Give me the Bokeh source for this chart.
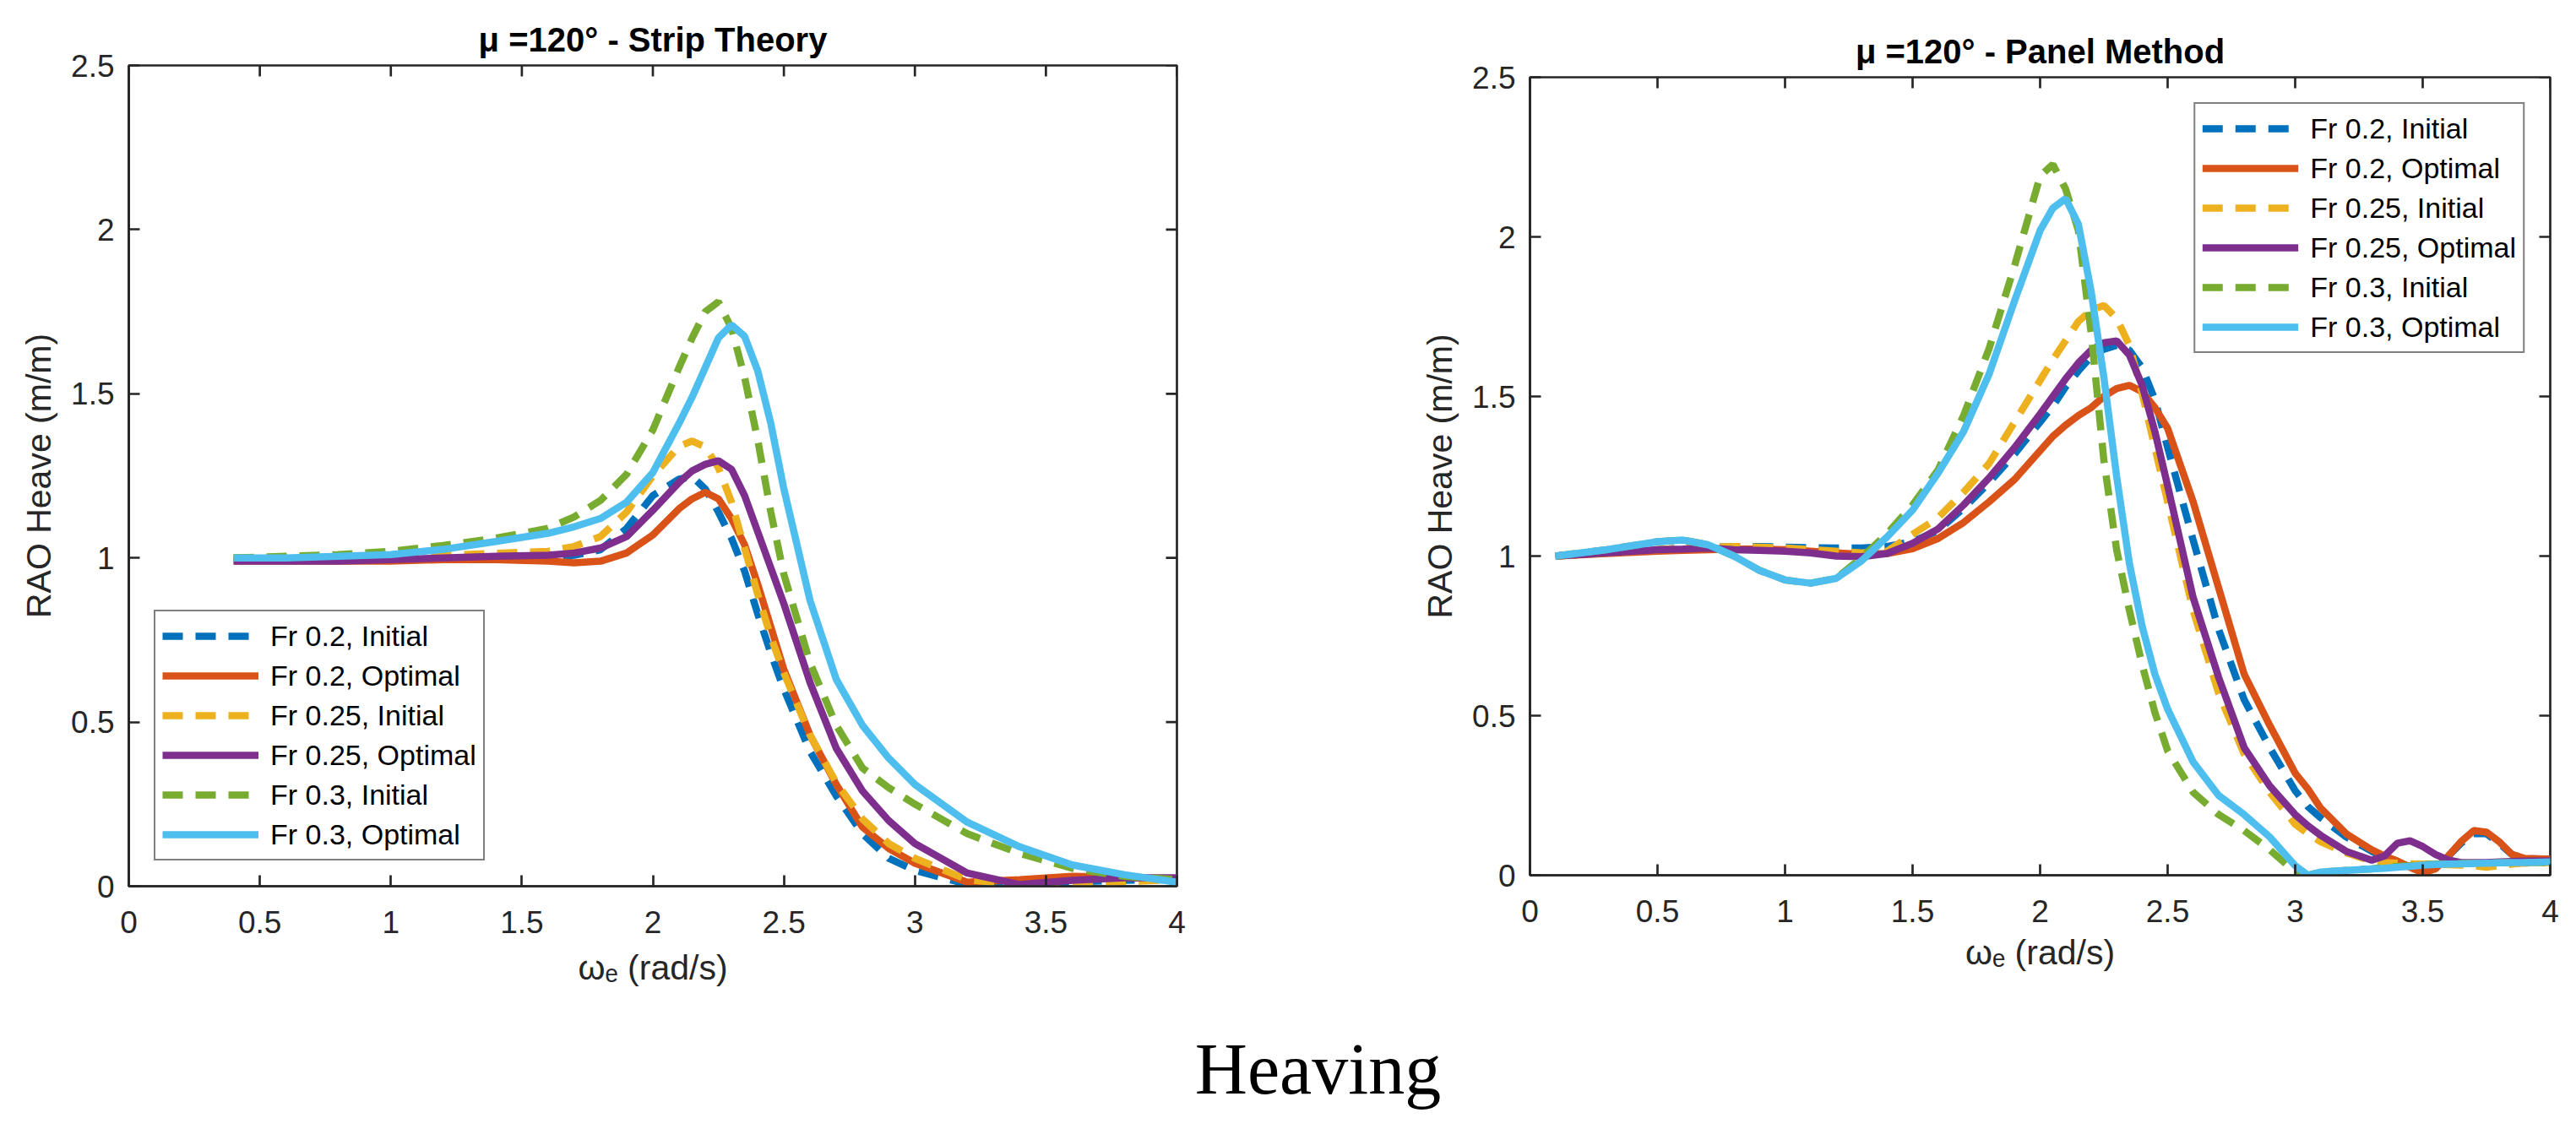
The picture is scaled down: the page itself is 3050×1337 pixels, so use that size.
from bokeh.plotting import figure
from bokeh.models import Range1d, FixedTicker, Legend, LegendItem, Label, Spacer
from bokeh.layouts import row, column
from bokeh.embed import file_html
from bokeh.resources import INLINE

# ---------------- data ----------------
X_TICKS = [0, 0.5, 1, 1.5, 2, 2.5, 3, 3.5, 4]
X_TICK_LABELS = ["0", "0.5", "1", "1.5", "2", "2.5", "3", "3.5", "4"]
Y_TICKS = [0, 0.5, 1, 1.5, 2, 2.5]
Y_TICK_LABELS = ["0", "0.5", "1", "1.5", "2", "2.5"]

SERIES_NAMES = ["Fr 0.2, Initial", "Fr 0.2, Optimal", "Fr 0.25, Initial",
                "Fr 0.25, Optimal", "Fr 0.3, Initial", "Fr 0.3, Optimal"]

# Strip theory (left)
omega_strip = [0.4, 0.6, 0.8, 1.0, 1.2, 1.4, 1.6, 1.7, 1.8, 1.9, 2.0, 2.1, 2.15, 2.2, 2.25,
               2.3, 2.35, 2.4, 2.45, 2.5, 2.6, 2.7, 2.8, 2.9, 3.0, 3.2, 3.4, 3.6, 3.8, 4.0]
strip_fr02_initial = [1.0, 1.0, 1.0, 1.0, 1.0, 1.0, 1.003, 1.008, 1.025, 1.09, 1.19, 1.24, 1.248, 1.21, 1.14,
                      1.06, 0.96, 0.83, 0.71, 0.60, 0.41, 0.275, 0.16, 0.085, 0.048, 0.006, 0.003, 0.013, 0.018, 0.02]
strip_fr02_optimal = [0.99, 0.99, 0.99, 0.99, 0.995, 0.995, 0.99, 0.985, 0.99, 1.015, 1.07, 1.15, 1.18, 1.20, 1.18,
                      1.12, 1.04, 0.92, 0.79, 0.66, 0.46, 0.31, 0.18, 0.115, 0.07, 0.012, 0.02, 0.03, 0.027, 0.02]
strip_fr025_initial = [1.0, 1.0, 1.0, 1.003, 1.008, 1.014, 1.02, 1.035, 1.065, 1.14, 1.25, 1.34, 1.356, 1.338, 1.275,
                       1.17, 1.03, 0.89, 0.76, 0.65, 0.46, 0.315, 0.205, 0.13, 0.085, 0.02, 0.003, 0.008, 0.014, 0.02]
strip_fr025_optimal = [0.99, 0.99, 0.99, 0.995, 1.0, 1.005, 1.008, 1.015, 1.03, 1.065, 1.145, 1.23, 1.265, 1.285, 1.296,
                       1.27, 1.19, 1.08, 0.97, 0.86, 0.62, 0.42, 0.29, 0.2, 0.13, 0.04, 0.005, 0.018, 0.026, 0.026]
strip_fr03_initial = [1.0, 1.005, 1.01, 1.02, 1.038, 1.06, 1.09, 1.125, 1.175, 1.255, 1.39, 1.58, 1.67, 1.75, 1.78,
                      1.70, 1.55, 1.36, 1.14, 0.95, 0.68, 0.49, 0.36, 0.30, 0.25, 0.16, 0.10, 0.055, 0.03, 0.02]
strip_fr03_optimal = [1.0, 1.0, 1.005, 1.01, 1.026, 1.05, 1.075, 1.095, 1.12, 1.17, 1.26, 1.41, 1.49, 1.58, 1.67,
                      1.71, 1.675, 1.57, 1.41, 1.21, 0.87, 0.63, 0.49, 0.39, 0.31, 0.195, 0.12, 0.065, 0.035, 0.012]

# Panel method (right)
omega_panel = [0.1, 0.3, 0.5, 0.6, 0.7, 0.8, 0.9, 1.0,
               1.1, 1.2, 1.3, 1.4, 1.5, 1.6, 1.7, 1.8, 1.9, 2.0,
               2.05, 2.1, 2.15, 2.2, 2.25, 2.3, 2.35, 2.4, 2.45, 2.5,
               2.6, 2.7, 2.8, 2.9, 3.0,
               3.05, 3.1, 3.2, 3.3, 3.35, 3.4, 3.45, 3.5,
               3.55, 3.6, 3.65, 3.7, 3.75, 3.8, 3.85, 3.9, 4.0]
panel_fr02_initial = [1.0, 1.01, 1.02, 1.025, 1.028, 1.03, 1.03, 1.028,
                      1.026, 1.025, 1.025, 1.03, 1.045, 1.08, 1.15, 1.23, 1.32, 1.42,
                      1.47, 1.53, 1.58, 1.625, 1.648, 1.66, 1.645, 1.59, 1.49, 1.34,
                      1.05, 0.77, 0.55, 0.40, 0.265,
                      0.215, 0.18, 0.12, 0.075, 0.055, 0.04, 0.028, 0.015,
                      0.025, 0.06, 0.10, 0.13, 0.13, 0.10, 0.065, 0.052, 0.05]
panel_fr02_optimal = [1.0, 1.008, 1.015, 1.018, 1.02, 1.022, 1.022, 1.02,
                      1.015, 1.01, 1.005, 1.008, 1.023, 1.055, 1.105, 1.17, 1.24, 1.33,
                      1.375, 1.41, 1.44, 1.465, 1.50, 1.525, 1.535, 1.515, 1.465, 1.40,
                      1.17, 0.90, 0.63, 0.47, 0.32,
                      0.27, 0.21, 0.13, 0.08, 0.06, 0.045, 0.025, 0.008,
                      0.02, 0.06, 0.105, 0.14, 0.135, 0.105, 0.065, 0.053, 0.05]
panel_fr025_initial = [1.0, 1.01, 1.02, 1.025, 1.028, 1.03, 1.028, 1.025,
                       1.02, 1.015, 1.01, 1.015, 1.068, 1.12, 1.20, 1.29, 1.42, 1.55,
                       1.615, 1.675, 1.735, 1.77, 1.785, 1.745, 1.66, 1.51, 1.34, 1.17,
                       0.83, 0.57, 0.38, 0.26, 0.16,
                       0.13, 0.105, 0.07, 0.045, 0.04, 0.038, 0.036, 0.035,
                       0.035, 0.033, 0.032, 0.03, 0.025, 0.03, 0.035, 0.038, 0.04]
panel_fr025_optimal = [1.0, 1.01, 1.02, 1.022, 1.025, 1.02, 1.018, 1.015,
                       1.01, 1.0, 0.998, 1.008, 1.04, 1.085, 1.16, 1.245, 1.34, 1.445,
                       1.50, 1.555, 1.605, 1.645, 1.668, 1.674, 1.63, 1.535, 1.39, 1.22,
                       0.87, 0.62, 0.40, 0.28, 0.19,
                       0.155, 0.125, 0.075, 0.047, 0.06, 0.10, 0.108, 0.09,
                       0.065, 0.048, 0.04, 0.04, 0.04, 0.042, 0.043, 0.044, 0.045]
panel_fr03_initial = [1.0, 1.02, 1.045, 1.05, 1.035, 1.0, 0.955, 0.925,
                      0.915, 0.93, 0.995, 1.07, 1.16, 1.27, 1.44, 1.65, 1.91, 2.19,
                      2.227, 2.15, 2.02, 1.70, 1.30, 1.02, 0.83, 0.66, 0.51, 0.39,
                      0.26, 0.19, 0.14, 0.08, 0.01,
                      0.0, 0.01, 0.015, 0.02, 0.025, 0.028, 0.03, 0.033,
                      0.035, 0.036, 0.037, 0.038, 0.038, 0.039, 0.04, 0.04, 0.04]
panel_fr03_optimal = [1.0, 1.02, 1.045, 1.05, 1.035, 1.0, 0.955, 0.925,
                      0.915, 0.93, 0.985, 1.06, 1.144, 1.26, 1.39, 1.57, 1.80, 2.02,
                      2.09, 2.12, 2.04, 1.83, 1.56, 1.25, 0.977, 0.78, 0.63, 0.52,
                      0.355, 0.25, 0.19, 0.12, 0.03,
                      0.0, 0.01, 0.015, 0.02, 0.022, 0.025, 0.028, 0.032,
                      0.034, 0.035, 0.036, 0.037, 0.038, 0.039, 0.04, 0.04, 0.042]

STRIP_SERIES = [strip_fr02_initial, strip_fr02_optimal, strip_fr025_initial,
                strip_fr025_optimal, strip_fr03_initial, strip_fr03_optimal]
PANEL_SERIES = [panel_fr02_initial, panel_fr02_optimal, panel_fr025_initial,
                panel_fr025_optimal, panel_fr03_initial, panel_fr03_optimal]

# ---------------- style ----------------
COLORS = ["#0072BD", "#D95319", "#EDB120", "#7E2F8E", "#77AC30", "#4DBEEE"]
DASHED = [True, False, True, False, True, False]
AX = "#262626"
FONT = "Liberation Sans"
X_MAX, Y_MAX = 4.0, 2.5
TICK_LEN = 13


def make_panel(title, xs, series, fw, fh, bl, br, bt, bb, legend_loc, xlabel_standoff):
    p = figure(frame_width=fw, frame_height=fh,
               x_range=Range1d(0, X_MAX), y_range=Range1d(0, Y_MAX),
               output_backend="svg", toolbar_location=None,
               min_border_left=bl, min_border_right=br,
               min_border_top=bt, min_border_bottom=bb)
    p.xgrid.visible = False
    p.ygrid.visible = False
    p.outline_line_color = AX
    p.outline_line_width = 2.7
    p.background_fill_color = "white"
    p.border_fill_color = "white"

    p.title.text = title
    p.title.align = "center"
    p.title.text_font = FONT
    p.title.text_font_size = "40px"
    p.title.text_font_style = "bold"
    p.title.text_color = "black"
    p.title.standoff = 17

    xa = p.xaxis[0]
    ya = p.yaxis[0]
    xa.ticker = FixedTicker(ticks=X_TICKS)
    xa.major_label_overrides = dict(zip(X_TICKS, X_TICK_LABELS))
    ya.ticker = FixedTicker(ticks=Y_TICKS)
    ya.major_label_overrides = dict(zip(Y_TICKS, Y_TICK_LABELS))
    for ax in (xa, ya):
        ax.axis_line_color = AX
        ax.axis_line_width = 2.7
        ax.major_tick_line_color = AX
        ax.major_tick_line_width = 2.7
        ax.major_tick_in = TICK_LEN
        ax.major_tick_out = 0
        ax.minor_tick_line_color = None
        ax.major_label_text_font = FONT
        ax.major_label_text_font_size = "37px"
        ax.major_label_text_color = AX
        ax.axis_label_text_font = FONT
        ax.axis_label_text_font_size = "41px"
        ax.axis_label_text_font_style = "normal"
        ax.axis_label_text_color = AX
    xa.major_label_standoff = 29
    ya.major_label_standoff = 17
    ya.axis_label = "RAO Heave (m/m)"
    ya.axis_label_standoff = 12
    xa.axis_label = "ωₑ (rad/s)"
    xa.axis_label_standoff = xlabel_standoff

    # box ticks on the top and right edges (MATLAB "box on")
    sx = X_MAX / fw
    sy = Y_MAX / fh
    p.segment(x0=X_TICKS, y0=[Y_MAX] * len(X_TICKS), x1=X_TICKS,
              y1=[Y_MAX - TICK_LEN * sy] * len(X_TICKS),
              line_color=AX, line_width=2.7)
    p.segment(x0=[X_MAX] * len(Y_TICKS), y0=Y_TICKS,
              x1=[X_MAX - TICK_LEN * sx] * len(Y_TICKS), y1=Y_TICKS,
              line_color=AX, line_width=2.7)

    items = []
    for name, ys, col, dash in zip(SERIES_NAMES, series, COLORS, DASHED):
        r = p.line(xs, ys, line_color=col, line_width=8.5,
                   line_dash="24 15" if dash else "solid")
        items.append(LegendItem(label=name, renderers=[r]))

    leg = Legend(items=items, location=legend_loc, margin=30,
                 label_text_font=FONT, label_text_font_size="34px",
                 label_text_color="black", glyph_width=114, glyph_height=42,
                 label_height=42, spacing=5, padding=8, label_standoff=14,
                 border_line_color="black", border_line_width=2.5,
                 background_fill_color="white", background_fill_alpha=1.0)
    p.add_layout(leg)
    return p


# left frame: x 152-1393, y 77-1049 ; right frame: x 1811-3019, y 91-1036
p1 = make_panel("μ =120° - Strip Theory", omega_strip, STRIP_SERIES,
                fw=1241, fh=972, bl=152, br=167, bt=77, bb=151,
                legend_loc="bottom_left", xlabel_standoff=15)
p2 = make_panel("μ =120° - Panel Method", omega_panel, PANEL_SERIES,
                fw=1208, fh=945, bl=251, br=15, bt=77, bb=164,
                legend_loc="top_right", xlabel_standoff=10)
right_col = column(Spacer(width=1474, height=14), p2)

CAP_W, CAP_H = 3034, 121
p3 = figure(frame_width=CAP_W, frame_height=CAP_H, x_range=Range1d(0, CAP_W),
            y_range=Range1d(0, CAP_H), x_axis_type=None, y_axis_type=None,
            output_backend="svg", toolbar_location=None, min_border=0)
p3.outline_line_color = None
p3.xgrid.visible = False
p3.ygrid.visible = False
p3.add_layout(Label(x=1560, y=8, text="Heaving", text_align="center",
                    text_baseline="bottom", text_font="Liberation Serif",
                    text_font_size="86px", text_color="black"))

layout = column(row(p1, right_col), p3)
open("out.html", "w").write(file_html(layout, INLINE))
